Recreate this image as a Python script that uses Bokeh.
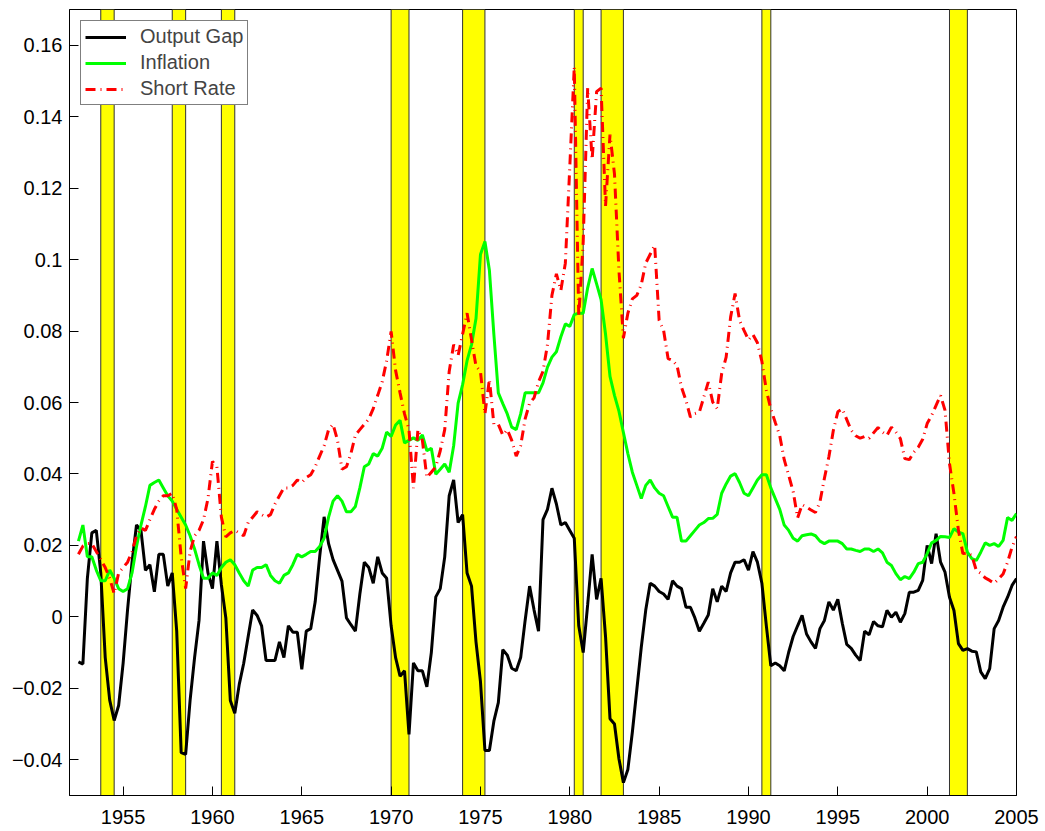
import numpy as np
from bokeh.plotting import figure
from bokeh.models import Range1d, FixedTicker, BoxAnnotation, Legend, LegendItem
from bokeh.embed import file_html
from bokeh.resources import INLINE

# ---------------- data ----------------
start_year = 1952.5  # first quarter plotted (quarterly observations)

output_gap = [
    -0.0126, -0.0132,
    0.0108, 0.0235, 0.0242, 0.0123,          # 1953
    -0.0114, -0.0233, -0.0290, -0.0248,      # 1954
    -0.0130, 0.0020, 0.0153, 0.0257,         # 1955
    0.0242, 0.0130, 0.0146, 0.0070,          # 1956
    0.0175, 0.0175, 0.0086, 0.0123,          # 1957
    -0.0040, -0.0380, -0.0385, -0.0233,      # 1958
    -0.0114, -0.0010, 0.0212, 0.0123,        # 1959
    0.0079, 0.0212, 0.0090, -0.0003,         # 1960
    -0.0234, -0.0270, -0.0189, -0.0130,      # 1961
    -0.0055, 0.0019, 0.0004, -0.0025,        # 1962
    -0.0122, -0.0122, -0.0122, -0.0070,      # 1963
    -0.0114, -0.0025, -0.0043, -0.0043,      # 1964
    -0.0147, -0.0040, -0.0033, 0.0042,       # 1965
    0.0168, 0.0280, 0.0205, 0.0160,          # 1966
    0.0130, 0.0100, -0.0003, -0.0022,        # 1967
    -0.0040, 0.0064, 0.0153, 0.0138,         # 1968
    0.0094, 0.0168, 0.0123, 0.0108,          # 1969
    -0.0025, -0.0114, -0.0166, -0.0151,      # 1970
    -0.0329, -0.0129, -0.0151, -0.0151,      # 1971
    -0.0196, -0.0100, 0.0056, 0.0079,        # 1972
    0.0168, 0.0339, 0.0383, 0.0264,          # 1973
    0.0286, 0.0123, 0.0086, -0.0070,         # 1974
    -0.0181, -0.0374, -0.0374, -0.0292,      # 1975
    -0.0240, -0.0092, -0.0107, -0.0144,      # 1976
    -0.0151, -0.0114, -0.0010, 0.0086,       # 1977
    0.0019, -0.0040, 0.0272, 0.0301,         # 1978
    0.0360, 0.0316, 0.0257, 0.0264,          # 1979
    0.0242, 0.0220, -0.0025, -0.0100,        # 1980
    0.0034, 0.0175, 0.0049, 0.0108,          # 1981
    -0.0055, -0.0285, -0.0300, -0.0397,      # 1982
    -0.0464, -0.0427, -0.0323, -0.0204,      # 1983
    -0.0085, 0.0019, 0.0094, 0.0086,         # 1984
    0.0071, 0.0064, 0.0049, 0.0101,          # 1985
    0.0086, 0.0079, 0.0027, 0.0027,          # 1986
    -0.0003, -0.0040, -0.0018, 0.0005,       # 1987
    0.0079, 0.0042, 0.0086, 0.0071,          # 1988
    0.0123, 0.0153, 0.0153, 0.0160,          # 1989
    0.0131, 0.0183, 0.0153, 0.0094,          # 1990
    -0.0025, -0.0137, -0.0129, -0.0137,      # 1991
    -0.0151, -0.0099, -0.0055, -0.0025,      # 1992
    0.0004, -0.0048, -0.0070, -0.0088,       # 1993
    -0.0033, -0.0010, 0.0042, 0.0019,        # 1994
    0.0049, -0.0018, -0.0077, -0.0088,       # 1995
    -0.0107, -0.0122, -0.0040, -0.0050,      # 1996
    -0.0013, -0.0025, -0.0028, 0.0018,       # 1997
    -0.0001, 0.0013, -0.0015, 0.0009,        # 1998
    0.0069, 0.0069, 0.0074, 0.0102,          # 1999
    0.0200, 0.0149, 0.0233, 0.0153,          # 2000
    0.0125, 0.0055, 0.0018, -0.0075,         # 2001
    -0.0094, -0.0089, -0.0096, -0.0098,      # 2002
    -0.0154, -0.0173, -0.0145, -0.0033,      # 2003
    -0.0010, 0.0027, 0.0055, 0.0088,         # 2004
    0.0107,                                  # 2005
]

inflation = [
    0.0212, 0.0257,
    0.0168, 0.0168, 0.0131, 0.0101,          # 1953
    0.0101, 0.0131, 0.0108, 0.0079,          # 1954
    0.0071, 0.0079, 0.0123, 0.0197,          # 1955
    0.0257, 0.0309, 0.0368, 0.0376,          # 1956
    0.0383, 0.0361, 0.0339, 0.0324,          # 1957
    0.0301, 0.0279, 0.0257, 0.0227,          # 1958
    0.0190, 0.0146, 0.0108, 0.0108,          # 1959
    0.0123, 0.0116, 0.0138, 0.0153,          # 1960
    0.0160, 0.0146, 0.0123, 0.0101,          # 1961
    0.0086, 0.0131, 0.0138, 0.0138,          # 1962
    0.0146, 0.0116, 0.0101, 0.0094,          # 1963
    0.0116, 0.0123, 0.0146, 0.0175,          # 1964
    0.0168, 0.0175, 0.0183, 0.0183,          # 1965
    0.0197, 0.0220, 0.0279, 0.0324,          # 1966
    0.0339, 0.0324, 0.0294, 0.0294,          # 1967
    0.0309, 0.0361, 0.0420, 0.0428,          # 1968
    0.0457, 0.0450, 0.0472, 0.0517,          # 1969
    0.0505, 0.0537, 0.0550, 0.0487,          # 1970
    0.0494, 0.0501, 0.0494, 0.0509,          # 1971
    0.0465, 0.0472, 0.0399, 0.0413,          # 1972
    0.0428, 0.0405, 0.0479, 0.0598,          # 1973
    0.0650, 0.0717, 0.0762, 0.0835,          # 1974
    0.1014, 0.1051, 0.0970, 0.0791,          # 1975
    0.0627, 0.0597, 0.0568, 0.0531,          # 1976
    0.0524, 0.0568, 0.0627, 0.0627,          # 1977
    0.0627, 0.0627, 0.0655, 0.0699,          # 1978
    0.0727, 0.0742, 0.0784, 0.0820,          # 1979
    0.0813, 0.0846, 0.0850, 0.0850,          # 1980
    0.0921, 0.0975, 0.0932, 0.0888,          # 1981
    0.0791, 0.0673, 0.0620, 0.0576,          # 1982
    0.0516, 0.0457, 0.0405, 0.0368,          # 1983
    0.0331, 0.0368, 0.0383, 0.0361,          # 1984
    0.0346, 0.0339, 0.0309, 0.0279,          # 1985
    0.0279, 0.0212, 0.0212, 0.0227,          # 1986
    0.0242, 0.0257, 0.0264, 0.0275,          # 1987
    0.0276, 0.0287, 0.0346, 0.0372,          # 1988
    0.0394, 0.0401, 0.0376, 0.0346,          # 1989
    0.0339, 0.0361, 0.0383, 0.0398,          # 1990
    0.0398, 0.0361, 0.0331, 0.0301,          # 1991
    0.0257, 0.0242, 0.0220, 0.0212,          # 1992
    0.0227, 0.0230, 0.0232, 0.0227,          # 1993
    0.0212, 0.0205, 0.0212, 0.0212,          # 1994
    0.0212, 0.0205, 0.0190, 0.0190,          # 1995
    0.0186, 0.0183, 0.0190, 0.0190,          # 1996
    0.0183, 0.0190, 0.0179, 0.0153,          # 1997
    0.0144, 0.0121, 0.0104, 0.0113,          # 1998
    0.0107, 0.0125, 0.0149, 0.0153,          # 1999
    0.0177, 0.0207, 0.0214, 0.0225,          # 2000
    0.0224, 0.0222, 0.0247, 0.0237,          # 2001
    0.0233, 0.0181, 0.0163, 0.0158,          # 2002
    0.0181, 0.0207, 0.0200, 0.0205,          # 2003
    0.0197, 0.0214, 0.0278, 0.0270,          # 2004
    0.0289,                                  # 2005
]

short_rate = [
    0.0175, 0.0198,
    0.0205, 0.0205, 0.0183, 0.0160,          # 1953
    0.0138, 0.0108, 0.0065, 0.0123,          # 1954
    0.0138, 0.0153, 0.0183, 0.0227,          # 1955
    0.0249, 0.0242, 0.0272, 0.0301,          # 1956
    0.0324, 0.0339, 0.0339, 0.0346,          # 1957
    0.0301, 0.0168, 0.0079, 0.0183,          # 1958
    0.0227, 0.0242, 0.0272, 0.0331,          # 1959
    0.0435, 0.0420, 0.0279, 0.0224,          # 1960
    0.0235, 0.0242, 0.0235, 0.0227,          # 1961
    0.0264, 0.0279, 0.0294, 0.0286,          # 1962
    0.0279, 0.0286, 0.0316, 0.0339,          # 1963
    0.0361, 0.0361, 0.0368, 0.0383,          # 1964
    0.0376, 0.0390, 0.0398, 0.0420,          # 1965
    0.0450, 0.0479, 0.0524, 0.0539,          # 1966
    0.0494, 0.0413, 0.0420, 0.0457,          # 1967
    0.0509, 0.0524, 0.0539, 0.0554,          # 1968
    0.0583, 0.0620, 0.0658, 0.0717,          # 1969
    0.0799, 0.0690, 0.0627, 0.0568,          # 1970
    0.0524, 0.0360, 0.0524, 0.0494,          # 1971
    0.0390, 0.0405, 0.0420, 0.0465,          # 1972
    0.0524, 0.0687, 0.0762, 0.0732,          # 1973
    0.0791, 0.0850, 0.0776, 0.0702,          # 1974
    0.0687, 0.0568, 0.0665, 0.0539,          # 1975
    0.0539, 0.0509, 0.0524, 0.0494,          # 1976
    0.0450, 0.0479, 0.0554, 0.0598,          # 1977
    0.0613, 0.0658, 0.0687, 0.0762,          # 1978
    0.0900, 0.0960, 0.0914, 0.0990,          # 1979
    0.1260, 0.1540, 0.0840, 0.1050,          # 1980
    0.1480, 0.1280, 0.1470, 0.1480,          # 1981
    0.1150, 0.1350, 0.1240, 0.0970,          # 1982
    0.0780, 0.0850, 0.0890, 0.0900,          # 1983
    0.0930, 0.0990, 0.1015, 0.1040,          # 1984
    0.0830, 0.0802, 0.0723, 0.0718,          # 1985
    0.0704, 0.0643, 0.0606, 0.0559,          # 1986
    0.0569, 0.0573, 0.0615, 0.0657,          # 1987
    0.0601, 0.0583, 0.0681, 0.0727,          # 1988
    0.0839, 0.0905, 0.0830, 0.0802,          # 1989
    0.0775, 0.0790, 0.0767, 0.0715,          # 1990
    0.0634, 0.0582, 0.0544, 0.0507,          # 1991
    0.0440, 0.0396, 0.0351, 0.0277,          # 1992
    0.0314, 0.0307, 0.0299, 0.0292,          # 1993
    0.0322, 0.0388, 0.0448, 0.0522,          # 1994
    0.0574, 0.0582, 0.0552, 0.0522,          # 1995
    0.0507, 0.0500, 0.0505, 0.0500,          # 1996
    0.0515, 0.0530, 0.0517, 0.0508,          # 1997
    0.0531, 0.0517, 0.0499, 0.0443,          # 1998
    0.0440, 0.0461, 0.0475, 0.0497,          # 1999
    0.0541, 0.0564, 0.0592, 0.0620,          # 2000
    0.0578, 0.0429, 0.0345, 0.0242,          # 2001
    0.0177, 0.0179, 0.0172, 0.0130,          # 2002
    0.0122, 0.0109, 0.0102, 0.0094,          # 2003
    0.0106, 0.0120, 0.0153, 0.0195,          # 2004
    0.0225,                                  # 2005
]

recession_start = [1953.75, 1957.75, 1960.5, 1970.0, 1974.0, 1980.25, 1981.75, 1990.75, 2001.25]
recession_end = [1954.5, 1958.5, 1961.25, 1971.0, 1975.25, 1980.75, 1983.0, 1991.25, 2002.25]

x_ticks = [1955, 1960, 1965, 1970, 1975, 1980, 1985, 1990, 1995, 2000, 2005]
y_ticks = [-0.04, -0.02, 0.0, 0.02, 0.04, 0.06, 0.08, 0.1, 0.12, 0.14, 0.16]
y_tick_labels = ["\u22120.04", "\u22120.02", "0", "0.02", "0.04", "0.06", "0.08",
                 "0.1", "0.12", "0.14", "0.16"]
series_names = ["Output Gap", "Inflation", "Short Rate"]

dates = start_year + 0.25 * np.arange(len(output_gap))

# ---------------- figure ----------------
FONT = "Liberation Sans"
p = figure(frame_width=947, frame_height=786,
           x_range=Range1d(1952.0, 2005.0), y_range=Range1d(-0.05, 0.17),
           output_backend="svg", toolbar_location=None,
           min_border_left=69, min_border_right=28, min_border_top=9, min_border_bottom=35)
p.background_fill_color = "white"
p.border_fill_color = "white"
p.outline_line_color = "black"
p.outline_line_width = 1
p.xgrid.visible = False
p.ygrid.visible = False

for s, e in zip(recession_start, recession_end):
    p.add_layout(BoxAnnotation(left=s, right=e, fill_color="#FFFF00", fill_alpha=1.0,
                               line_color="#333333", line_alpha=1.0, line_width=1,
                               level="underlay"))

r_gap = p.line(dates, output_gap, line_color="black", line_width=3)
r_inf = p.line(dates, inflation, line_color="#00FF00", line_width=3)
r_sr = p.line(dates, short_rate, line_color="#FF0000", line_width=3, line_dash="10 5 1 5")

for ax in (p.xaxis[0], p.yaxis[0]):
    ax.axis_line_color = "black"
    ax.major_tick_line_color = "black"
    ax.major_tick_in = 9
    ax.major_tick_out = 0
    ax.minor_tick_line_color = None
    ax.major_label_text_font = FONT
    ax.major_label_text_font_size = "20px"
    ax.major_label_text_color = "black"

p.xaxis.ticker = FixedTicker(ticks=x_ticks)
p.xaxis.major_label_overrides = {t: str(t) for t in x_ticks}
p.xaxis.major_label_standoff = 14
p.yaxis.ticker = FixedTicker(ticks=y_ticks)
p.yaxis.major_label_overrides = {t: l for t, l in zip(y_ticks, y_tick_labels)}
p.yaxis.major_label_standoff = 7

legend = Legend(items=[LegendItem(label=series_names[0], renderers=[r_gap]),
                       LegendItem(label=series_names[1], renderers=[r_inf]),
                       LegendItem(label=series_names[2], renderers=[r_sr])],
                location="top_left", margin=11, padding=4, spacing=3,
                glyph_width=41, glyph_height=22, label_height=22, label_standoff=14,
                label_text_font=FONT, label_text_font_size="20px",
                border_line_color="black", border_line_width=1,
                background_fill_color="white", background_fill_alpha=1.0)
p.add_layout(legend)

open("out.html", "w").write(file_html(p, INLINE))
